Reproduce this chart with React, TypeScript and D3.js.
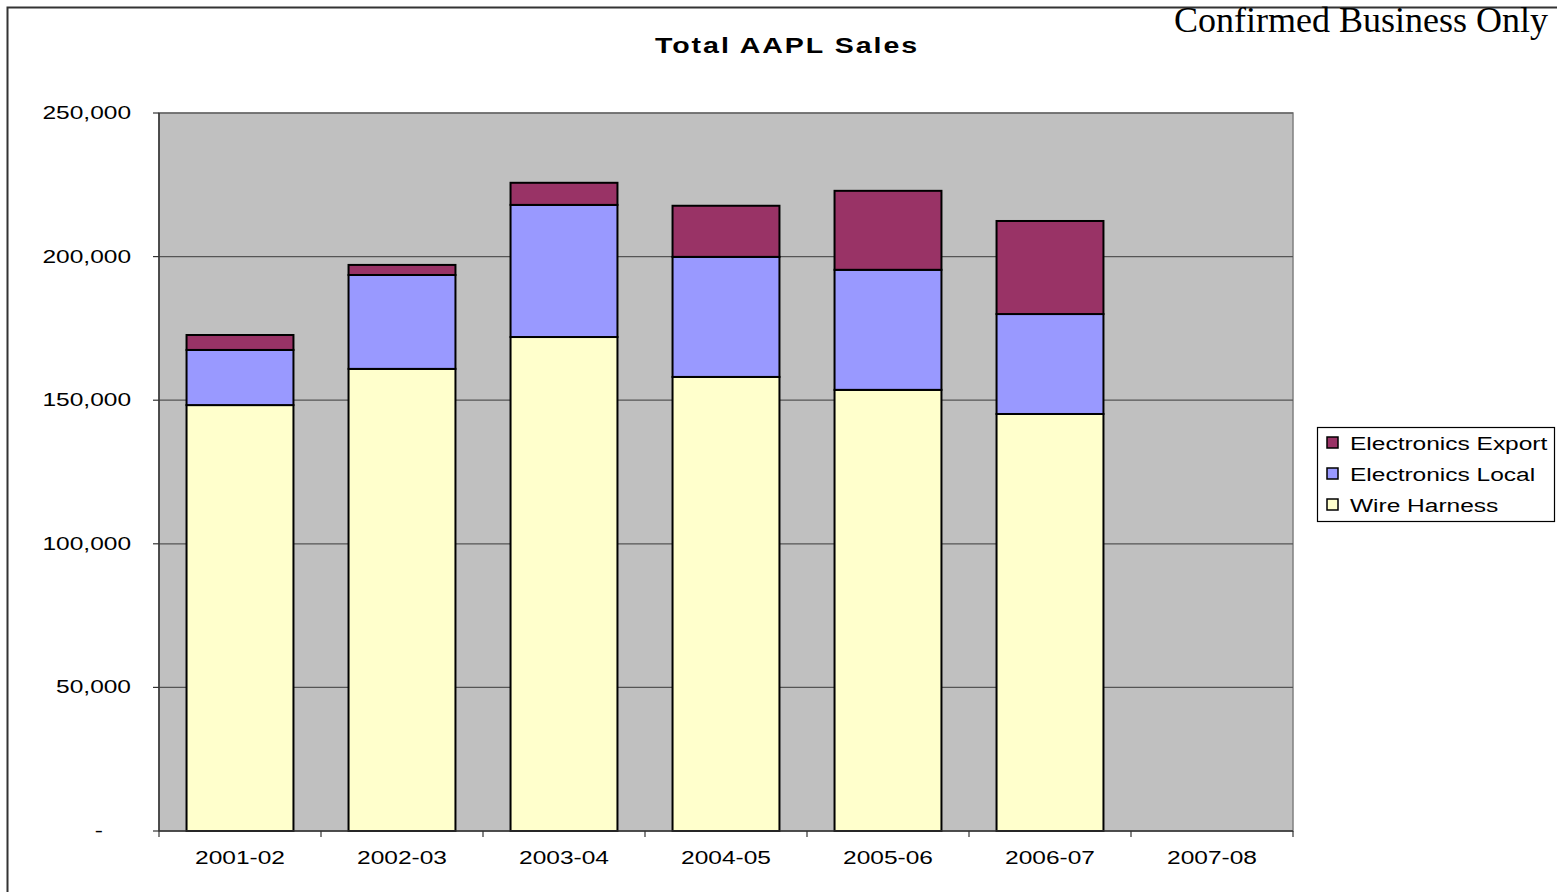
import React from "react";
import * as d3 from "d3";

const categories = ["2001-02", "2002-03", "2003-04", "2004-05", "2005-06", "2006-07", "2007-08"];
const wireHarness = [148300, 160900, 172000, 158100, 153600, 145200, 0];
const electronicsLocal = [19200, 32700, 46000, 41800, 41800, 34800, 0];
const electronicsExport = [5200, 3500, 7700, 17800, 27500, 32400, 0];
const seriesNames = ["Wire Harness", "Electronics Local", "Electronics Export"];
const seriesColors = ["#FFFFCC", "#9999FF", "#993366"];
const yTicks = [0, 50000, 100000, 150000, 200000, 250000];

const font = "Arial, 'Liberation Sans', sans-serif";
const SX = 1.29;

function WText({ x, y, anchor = "start", size = 19, sx = SX, children, ...rest }: any) {
  return (
    <text transform={`translate(${x},${y}) scale(${sx},1)`} textAnchor={anchor} fontFamily={font} fontSize={size} {...rest}>
      {children}
    </text>
  );
}

export default function App() {
  const W = 1557, H = 892;
  const left = 159, right = 1293, top = 113, bottom = 831;
  const x = d3.scaleBand<string>().domain(categories).range([left, right]).paddingInner(0.34).paddingOuter(0.17);
  const y = d3.scaleLinear().domain([0, 250000]).range([bottom, top]);
  const table = categories.map((c, i) => ({ cat: c, "Wire Harness": wireHarness[i], "Electronics Local": electronicsLocal[i], "Electronics Export": electronicsExport[i] }));
  const stacked = d3.stack<any>().keys(seriesNames)(table);
  const fmt = (v: number) => (v === 0 ? "-" : d3.format(",")(v));
  const bandStep = (right - left) / categories.length;
  const legendItems = [...seriesNames].reverse();

  return (
    <svg width={W} height={H} style={{ position: "absolute", left: 0, top: 0, background: "#fff" }}>
      <rect x={7.5} y={7.5} width={W + 20} height={H + 20} fill="#fff" stroke="#333" strokeWidth={2} />
      <WText x={787} y={53} anchor="middle" size={22} sx={1.3} fontWeight="bold" letterSpacing={1.5}>Total AAPL Sales</WText>
      <rect x={left} y={top} width={right - left} height={bottom - top} fill="#C0C0C0" stroke="#808080" strokeWidth={1.5} />
      {yTicks.map((t) => (
        <g key={t}>
          {t > 0 && <line x1={left} x2={right} y1={y(t)} y2={y(t)} stroke="#555" strokeWidth={1.2} />}
          <line x1={left - 6} x2={left} y1={y(t)} y2={y(t)} stroke="#333" strokeWidth={1.2} />
          <WText x={t === 0 ? 103 : 131} y={y(t) + 6} anchor="end">{fmt(t)}</WText>
        </g>
      ))}
      {stacked.map((s, si) => (
        <g key={s.key}>
          {s.map((d, i) => (d[1] - d[0] > 0 ? (
            <rect key={i} x={x(categories[i])!} y={y(d[1])} width={x.bandwidth()} height={y(d[0]) - y(d[1])}
              fill={seriesColors[si]} stroke="#000" strokeWidth={2} />
          ) : null))}
        </g>
      ))}
      <line x1={left} x2={left} y1={top} y2={bottom} stroke="#333" strokeWidth={1.5} />
      <line x1={left} x2={right} y1={bottom} y2={bottom} stroke="#333" strokeWidth={1.5} />
      {d3.range(categories.length + 1).map((i) => (
        <line key={i} x1={left + i * bandStep} x2={left + i * bandStep} y1={bottom} y2={bottom + 6} stroke="#333" strokeWidth={1.2} />
      ))}
      {categories.map((c) => (
        <WText key={c} x={x(c)! + x.bandwidth() / 2} y={864} anchor="middle">{c}</WText>
      ))}
      <rect x={1317.5} y={427.5} width={237} height={94} fill="#fff" stroke="#000" strokeWidth={1.2} />
      {legendItems.map((n, i) => (
        <g key={n}>
          <rect x={1327} y={437 + i * 31} width={11} height={11} fill={seriesColors[seriesNames.indexOf(n)]} stroke="#000" strokeWidth={1.5} />
          <WText x={1350} y={450 + i * 31}>{n}</WText>
        </g>
      ))}
      <text x={1548} y={32} textAnchor="end" fontFamily="'Liberation Serif', 'Times New Roman', serif" fontSize={36}>Confirmed Business Only</text>
    </svg>
  );
}
